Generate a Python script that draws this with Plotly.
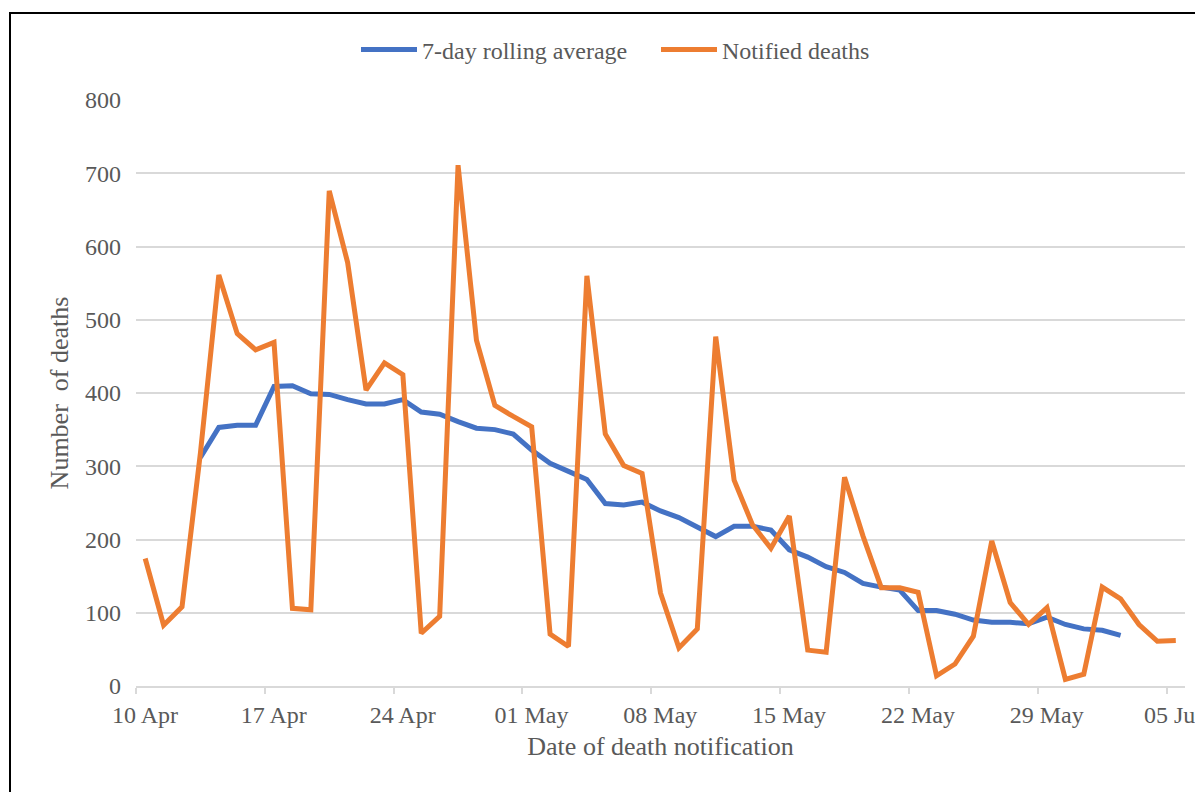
import pandas as pd
import plotly.graph_objects as go

# ---- data ----
start_date = "2020-04-10"
notified_deaths = [174, 83, 108, 318, 561, 481, 459, 469, 106, 104,
                   676, 578, 404, 441, 425, 72, 95, 711, 472, 383,
                   368, 354, 71, 54, 560, 344, 301, 290, 127, 52,
                   78, 477, 281, 220, 188, 232, 49, 46, 285, 205,
                   134, 134, 128, 14, 30, 68, 198, 114, 84, 107,
                   9, 16, 135, 119, 84, 61, 62]
rolling_avg = [312, 353, 356, 356, 409, 410, 399, 398, 391, 385,
               385, 391, 374, 371, 361, 352, 350, 344, 322, 304,
               293, 282, 249, 247, 251, 239, 230, 217, 204, 218,
               218, 213, 186, 176, 163, 155, 140, 135, 131, 103,
               103, 98, 90, 87, 87, 85, 94, 84, 78, 76, 69]
rolling_offset = 3  # centred average starts at the 4th day
tick_labels = ["10 Apr", "17 Apr", "24 Apr", "01 May", "08 May",
               "15 May", "22 May", "29 May", "05 Jun"]

dates = pd.date_range(start_date, periods=len(notified_deaths), freq="D")
avg_dates = dates[rolling_offset:rolling_offset + len(rolling_avg)]
# tick marks sit on day boundaries (half a day before each labelled date)
tick_positions = [dates[0] + pd.Timedelta(days=7 * k) - pd.Timedelta(hours=12)
                  for k in range(len(tick_labels))]

BLUE = "#4472C4"
ORANGE = "#ED7D31"
TEXT = "#595959"
GRID = "#D9D9D9"
FONT = "Liberation Serif, Times New Roman, serif"

fig = go.Figure()
fig.add_trace(go.Scatter(x=avg_dates, y=rolling_avg, mode="lines",
                         name="7-day rolling average",
                         line=dict(color=BLUE, width=5)))
fig.add_trace(go.Scatter(x=dates, y=notified_deaths, mode="lines",
                         name="Notified deaths",
                         line=dict(color=ORANGE, width=5)))

# the page body adds an 8 px offset, so the figure is 8 px smaller
OFF = 8
W, H = 1203 - OFF, 792 - OFF
plot_l, plot_r, plot_t, plot_b = 136 - OFF, 18, 100 - OFF, 106
plot_w = W - plot_l - plot_r
plot_h = H - plot_t - plot_b

fig.update_layout(
    width=W, height=H,
    margin=dict(l=plot_l, r=plot_r, t=plot_t, b=plot_b, pad=0, autoexpand=False),
    paper_bgcolor="white", plot_bgcolor="white",
    font=dict(family=FONT, size=24, color=TEXT),
    showlegend=True,
    legend=dict(orientation="h", x=(356 - OFF - plot_l) / plot_w, xanchor="left",
                y=1 + (plot_t - (50 - OFF)) / plot_h, yanchor="middle",
                font=dict(family=FONT, size=24, color=TEXT),
                itemwidth=56, entrywidth=229, entrywidthmode="pixels",
                bgcolor="rgba(0,0,0,0)", tracegroupgap=0),
    xaxis=dict(
        type="date",
        range=[dates[0] - pd.Timedelta(hours=12),
               dates[-1] + pd.Timedelta(hours=12)],
        tickmode="array", tickvals=tick_positions, ticktext=tick_labels,
        ticklabelshift=9, ticklabeloverflow="allow",
        ticks="outside", ticklen=6, tickwidth=1.5, tickcolor=GRID,
        showline=True, linecolor=GRID, linewidth=1.5,
        showgrid=False, zeroline=False,
        tickfont=dict(family=FONT, size=24, color=TEXT),
        title=dict(text="Date of death notification", standoff=10,
                   font=dict(family=FONT, size=26, color=TEXT)),
    ),
    yaxis=dict(
        range=[0, 800], dtick=100, tick0=0,
        showgrid=True, gridcolor=GRID, gridwidth=1.5,
        zeroline=False, showline=False, ticks="",
        ticklabelstandoff=14,
        tickfont=dict(family=FONT, size=24, color=TEXT),
        title=dict(text="Number  of deaths", standoff=8,
                   font=dict(family=FONT, size=26, color=TEXT)),
    ),
    shapes=[dict(type="rect", xref="paper", yref="paper",
                 x0=(10 - OFF - plot_l) / plot_w, x1=1.3,
                 y0=-0.4, y1=1 + (plot_t - (13 - OFF)) / plot_h,
                 line=dict(color="black", width=2), fillcolor="rgba(0,0,0,0)",
                 layer="below")],
)

fig.write_html("out.html")
